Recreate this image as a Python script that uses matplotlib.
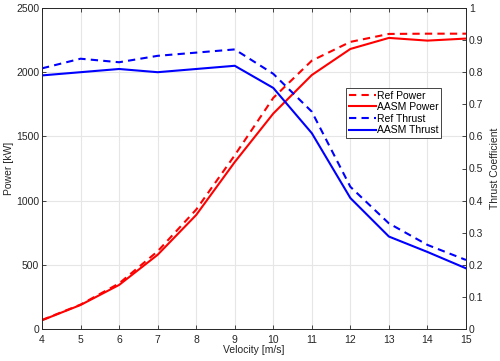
import numpy as np
import matplotlib
matplotlib.use("Agg")
import matplotlib.pyplot as plt

plt.rcParams['font.family'] = ['Liberation Sans', 'DejaVu Sans']
plt.rcParams['font.size'] = 7.5

# data
velocity = [4, 5, 6, 7, 8, 9, 10, 11, 12, 13, 14, 15]
ref_power = [70, 190, 355, 605, 930, 1353, 1800, 2090, 2236, 2298, 2300, 2300]
aasm_power = [68, 187, 343, 578, 888, 1300, 1678, 1978, 2181, 2267, 2246, 2262]
ref_thrust = [0.812, 0.842, 0.831, 0.851, 0.861, 0.871, 0.795, 0.677, 0.443, 0.329, 0.262, 0.215]
aasm_thrust = [0.790, 0.800, 0.810, 0.800, 0.810, 0.820, 0.751, 0.610, 0.408, 0.288, 0.240, 0.189]

fig = plt.figure(figsize=(5, 3.61), dpi=100)
ax = fig.add_axes([42 / 500, 1 - 329 / 361, 424 / 500, 321 / 361])
ax2 = ax.twinx()

l1, = ax.plot(velocity, ref_power, '--', color='red', lw=1.5, dashes=(3.5, 2.5))
l2, = ax.plot(velocity, aasm_power, '-', color='red', lw=1.5)
l3, = ax2.plot(velocity, ref_thrust, '--', color='blue', lw=1.5, dashes=(3.5, 2.5))
l4, = ax2.plot(velocity, aasm_thrust, '-', color='blue', lw=1.5)

ax.set_xlim(4, 15)
ax.set_ylim(0, 2500)
ax2.set_ylim(0, 1)
ax.set_xticks(range(4, 16))
ax.set_yticks(range(0, 2501, 500))
ax2.set_yticks(np.arange(0, 1.01, 0.1))
ax2.set_yticklabels(['0'] + [f'{t:.1f}' for t in np.arange(0.1, 0.95, 0.1)] + ['1'])

ax.grid(True, color='#e6e6e6', lw=0.8)
ax.set_axisbelow(True)

for a in (ax, ax2):
    for s in a.spines.values():
        s.set_color('#262626')
        s.set_linewidth(0.6)
    a.tick_params(direction='in', length=3, width=0.6, colors='#262626', labelcolor='#262626', pad=2)
ax.tick_params(top=True)
ax.tick_params(axis='x', pad=4)

ax.set_xlabel('Velocity [m/s]', labelpad=0, color='#262626')
ax.set_ylabel('Power [kW]', labelpad=1.5, color='#262626')
ax2.set_ylabel('Thrust Coefficient', labelpad=4.5, color='#262626')

leg = ax2.legend([l1, l2, l3, l4], ['Ref Power', 'AASM Power', 'Ref Thrust', 'AASM Thrust'],
                 loc='upper right', bbox_to_anchor=(0.941, 0.751), fancybox=False,
                 edgecolor='#262626', framealpha=1, handlelength=2.6, handletextpad=0.1,
                 borderpad=0.25, labelspacing=0.15, borderaxespad=0)
leg.get_frame().set_linewidth(0.6)

fig.savefig('out.png', dpi=100)
